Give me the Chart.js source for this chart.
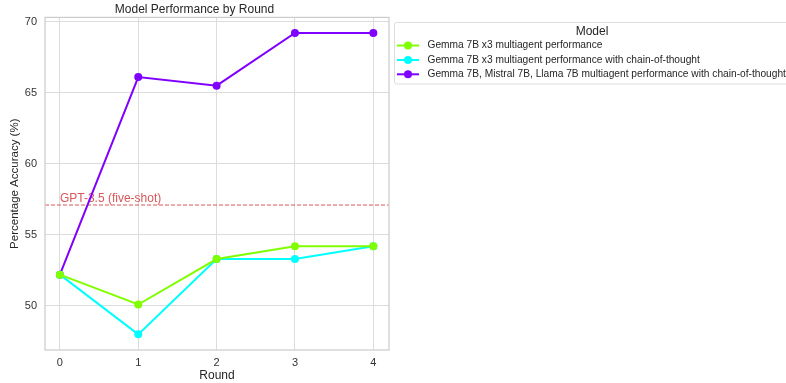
<!DOCTYPE html>
<html>
<head>
<meta charset="utf-8">
<script src="https://cdn.jsdelivr.net/npm/chart.js@4"></script>
<style>
  html, body { margin: 0; padding: 0; background: #fff; }
  #wrap { width: 786px; height: 383px; }
</style>
</head>
<body>
<div id="wrap"><canvas id="line-chart"></canvas></div>
<script>
const rounds = [0, 1, 2, 3, 4];
const gemmaX3 = [52.2, 50.1, 53.3, 54.2, 54.2];
const gemmaX3Cot = [52.2, 48.0, 53.3, 53.3, 54.2];
const mixedCot = [52.2, 66.1, 65.5, 69.2, 69.2];
const gpt35 = 57.1;
const yTicks = [50, 55, 60, 65, 70];

const seriesNames = [
    "Gemma 7B x3 multiagent performance",
    "Gemma 7B x3 multiagent performance with chain-of-thought",
    "Gemma 7B, Mistral 7B, Llama 7B multiagent performance with chain-of-thought"
];
const seriesColors = ["#80ff00", "#00ffff", "#7f00ff"];
const FONT = "'Liberation Sans', Arial, sans-serif";

function toPoints(vals) {
    return rounds.map((r, i) => ({ x: r, y: vals[i] }));
}

const datasets = [gemmaX3, gemmaX3Cot, mixedCot].map((vals, i) => ({
    label: seriesNames[i],
    data: toPoints(vals),
    borderColor: seriesColors[i],
    backgroundColor: seriesColors[i],
    borderWidth: 2,
    pointRadius: 4,
    pointHoverRadius: 4,
    pointBorderWidth: 0,
    fill: false,
    tension: 0
}));

// spines, reference line and the outside legend
const extras = {
    id: 'extras',
    beforeDatasetsDraw(chart) {
        const { ctx, chartArea: a, scales } = chart;
        const y = scales.y.getPixelForValue(gpt35);
        ctx.save();
        ctx.strokeStyle = '#d9575b';
        ctx.lineWidth = 1;
        ctx.setLineDash([4, 2]);
        ctx.beginPath();
        ctx.moveTo(a.left, y);
        ctx.lineTo(a.right, y);
        ctx.stroke();
        ctx.setLineDash([]);
        ctx.fillStyle = '#d9575b';
        ctx.font = '12px ' + FONT;
        ctx.textBaseline = 'bottom';
        ctx.fillText('GPT-3.5 (five-shot)', scales.x.getPixelForValue(0), y);
        ctx.restore();
    },
    afterDraw(chart) {
        const { ctx, chartArea: a } = chart;
        ctx.save();
        ctx.strokeStyle = '#cccccc';
        ctx.lineWidth = 1.25;
        ctx.strokeRect(a.left, a.top, a.right - a.left, a.bottom - a.top);

        // legend
        const lx = 394.5, ly = 22.5, lw = 400, lh = 61.5;
        ctx.strokeStyle = '#dddddd';
        ctx.lineWidth = 1;
        ctx.fillStyle = '#ffffff';
        ctx.beginPath();
        ctx.roundRect(lx, ly, lw, lh, 2);
        ctx.fill();
        ctx.stroke();
        ctx.fillStyle = '#262626';
        ctx.font = '12px ' + FONT;
        ctx.textAlign = 'center';
        ctx.textBaseline = 'middle';
        ctx.fillText('Model', 592, 31.5);
        ctx.textAlign = 'left';
        ctx.font = '10.2px ' + FONT;
        const rows = [45.5, 60, 74.3];
        seriesNames.forEach((name, i) => {
            ctx.strokeStyle = seriesColors[i];
            ctx.fillStyle = seriesColors[i];
            ctx.lineWidth = 2;
            ctx.beginPath();
            ctx.moveTo(397, rows[i]);
            ctx.lineTo(419, rows[i]);
            ctx.stroke();
            ctx.beginPath();
            ctx.arc(408, rows[i], 4, 0, Math.PI * 2);
            ctx.fill();
            ctx.fillStyle = '#262626';
            ctx.fillText(name, 427.5, rows[i]);
        });
        ctx.restore();
    }
};

new Chart(document.getElementById("line-chart"), {
    type: 'line',
    data: { datasets: datasets },
    plugins: [extras],
    options: {
        responsive: true,
        maintainAspectRatio: false,
        animation: false,
        layout: { padding: { left: 0, right: 397, top: 0, bottom: 0 } },
        plugins: {
            legend: { display: false },
            tooltip: { enabled: false },
            title: {
                display: true,
                text: 'Model Performance by Round',
                color: '#262626',
                font: { family: FONT, size: 12, weight: 'normal' },
                padding: { top: 2, bottom: 1 }
            }
        },
        scales: {
            x: {
                type: 'linear',
                min: -0.19,
                max: 4.2,
                afterBuildTicks(scale) {
                    scale.ticks = rounds.map(v => ({ value: v }));
                },
                afterFit(scale) { scale.height = 33; },
                grid: { color: '#dcdcdc', lineWidth: 1, drawTicks: false },
                border: { display: false },
                ticks: {
                    color: '#333333',
                    padding: 6,
                    font: { family: FONT, size: 11 }
                },
                title: {
                    display: true,
                    text: 'Round',
                    color: '#262626',
                    padding: { top: 2, bottom: 0 },
                    font: { family: FONT, size: 12 }
                }
            },
            y: {
                min: 46.9,
                max: 70.3,
                afterBuildTicks(scale) {
                    scale.ticks = yTicks.map(v => ({ value: v }));
                },
                afterFit(scale) { scale.width = 45; },
                grid: { color: '#dcdcdc', lineWidth: 1, drawTicks: false },
                border: { display: false },
                ticks: {
                    color: '#333333',
                    padding: 8,
                    font: { family: FONT, size: 11 }
                },
                title: {
                    display: true,
                    text: 'Percentage Accuracy (%)',
                    color: '#262626',
                    padding: { top: 8, bottom: 0 },
                    font: { family: FONT, size: 11.5 }
                }
            }
        }
    }
});
</script>
</body>
</html>
